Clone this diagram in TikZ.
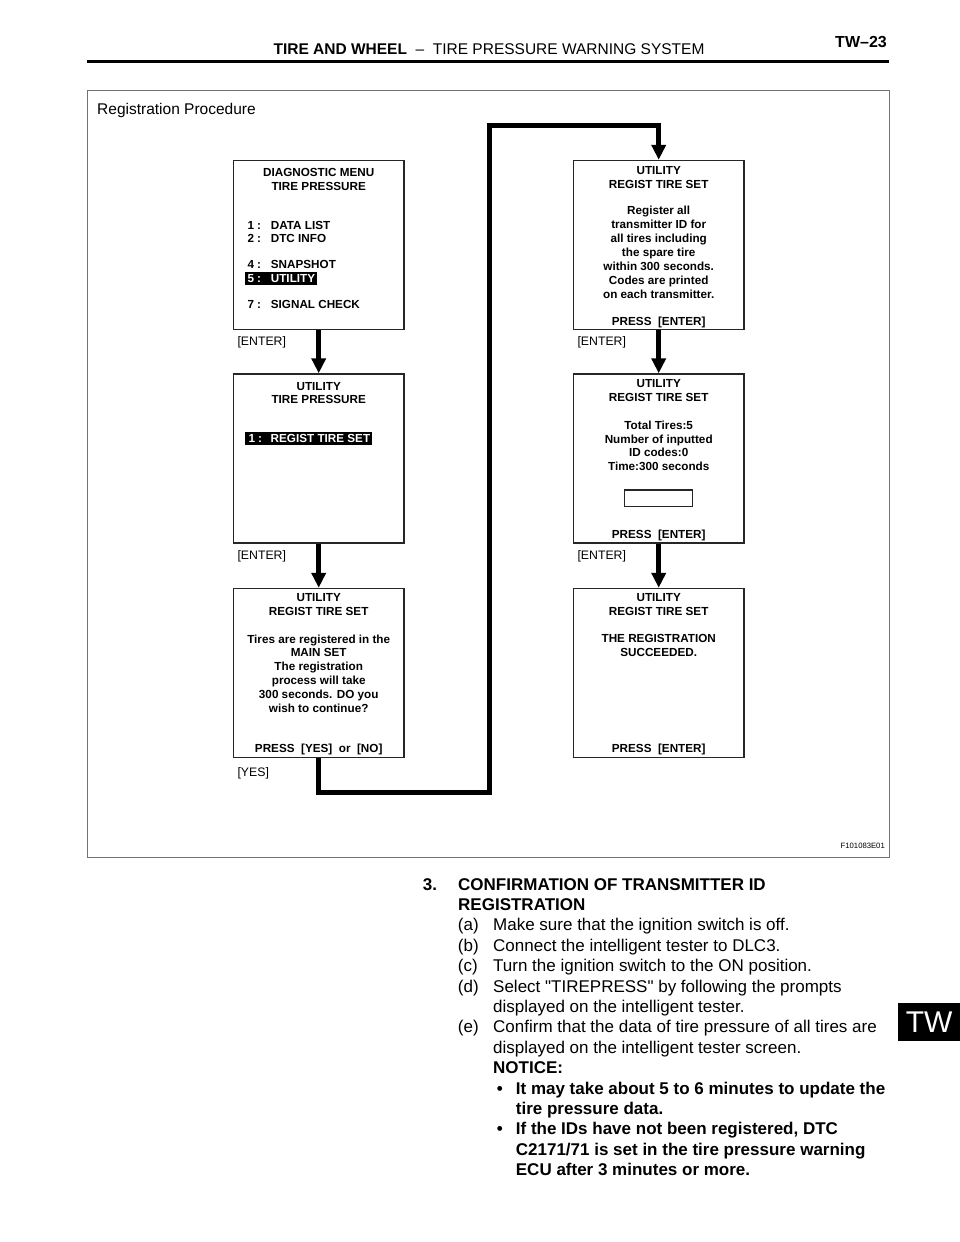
\documentclass[tikz,border=0pt]{standalone}
\usepackage{fontspec}
\setmainfont{Liberation Sans}
\usetikzlibrary{arrows.meta}
\begin{document}
\begin{tikzpicture}[x=1pt,y=-1pt,
  screen/.style={draw=black!85, line width=1.4pt, minimum width=170.5pt, minimum height=169pt, inner sep=0pt},
  st/.style={font=\bfseries\fontsize{11.7}{13}\selectfont, anchor=base, inner sep=0pt},
  stl/.style={st, anchor=base west},
  hlw/.style={stl, text=white},
  hlbox/.style={fill=black, inner sep=0pt, draw=none},
  key/.style={font=\fontsize{12.3}{14}\selectfont, anchor=base west, inner sep=0pt},
  flow/.style={line width=5pt, line join=miter, -{Triangle[width=14pt,length=15pt]}},
  body/.style={font=\fontsize{17}{20}\selectfont, anchor=base west, inner sep=0pt},
  bodyb/.style={body, font=\bfseries\fontsize{17}{20}\selectfont},
]
\useasboundingbox (0,0) rectangle (960,1242);
% header
\node[anchor=base, inner sep=0pt, font=\fontsize{15.5}{18}\selectfont] (title) at (489,54) {\textbf{TIRE AND WHEEL}\ \ –\ \ TIRE PRESSURE WARNING SYSTEM};
\node[anchor=base east, inner sep=0pt, font=\bfseries\fontsize{16}{18}\selectfont] (page) at (887,47) {TW–23};
\draw[line width=2.5pt] (87,61.7) -- (889,61.7);
% frame
\draw[black!55, line width=1pt] (87,90) rectangle (889,857);
\node[anchor=base west, inner sep=0pt, font=\fontsize{15.5}{18}\selectfont] (rp) at (97,114.5) {Registration Procedure};
\node[anchor=base east, inner sep=0pt, font=\fontsize{7.7}{9}\selectfont] (fig) at (885,848.5) {F101083E01};
% screens
\node[screen] (s1) at (318.7,245) {};
\node[screen] (s2) at (318.7,458.5) {};
\node[screen] (s3) at (318.7,673) {};
\node[screen] (s4) at (658.7,245) {};
\node[screen] (s5) at (658.7,458.5) {};
\node[screen] (s6) at (658.7,673) {};
% screen 1
\node[st] (s1a) at (318.7,176.7) {DIAGNOSTIC MENU};
\node[st] (s1b) at (318.7,190.2) {TIRE PRESSURE};
\node[stl] (s1n1) at (247.3,229.2) {1 :};
\node[stl] (s1t1) at (270.7,229.2) {DATA LIST};
\node[stl] (s1n2) at (247.3,242.6) {2 :};
\node[stl] (s1t2) at (270.7,242.6) {DTC INFO};
\node[stl] (s1n4) at (247.3,268.2) {4 :};
\node[stl] (s1t4) at (270.7,268.2) {SNAPSHOT};
\node[hlbox, minimum width=71.7pt, minimum height=13.3pt] (hl1) at (280.8,278.3) {};
\node[hlw] (s1n5) at (247.3,282.4) {5 :};
\node[hlw] (s1t5) at (270.7,282.4) {UTILITY};
\node[stl] (s1n7) at (247.3,308.3) {7 :};
\node[stl] (s1t7) at (270.7,308.3) {SIGNAL CHECK};
% screen 2
\node[st] (s2a) at (318.7,390.2) {UTILITY};
\node[st] (s2b) at (318.7,403.7) {TIRE PRESSURE};
\node[hlbox, minimum width=126.7pt, minimum height=13.3pt] (hl2) at (308.4,438.3) {};
\node[hlw] (s2n1) at (248.3,442.5) {1 :};
\node[hlw] (s2t1) at (270.5,442.5) {REGIST TIRE SET};
% screen 3
\node[st] (s3a) at (318.7,601.2) {UTILITY};
\node[st] (s3b) at (318.7,615.2) {REGIST TIRE SET};
\node[st] (s3c) at (318.7,643.2) {Tires are registered in the};
\node[st] (s3d) at (318.7,656.9) {MAIN SET};
\node[st] (s3e) at (318.7,670.7) {The registration};
\node[st] (s3f) at (318.7,684.7) {process will take};
\node[st] (s3g) at (318.7,698.7) {300 seconds. DO you};
\node[st] (s3h) at (318.7,712.5) {wish to continue?};
\node[st] (s3i) at (318.7,752.7) {PRESS\ \ [YES]\ \ or\ \ [NO]};
% screen 4
\node[st] (s4a) at (658.7,174.2) {UTILITY};
\node[st] (s4b) at (658.7,188.4) {REGIST TIRE SET};
\node[st] (s4c) at (658.7,214.7) {Register all};
\node[st] (s4d) at (658.7,228.7) {transmitter ID for};
\node[st] (s4e) at (658.7,242.7) {all tires including};
\node[st] (s4f) at (658.7,256.7) {the spare tire};
\node[st] (s4g) at (658.7,270.7) {within 300 seconds.};
\node[st] (s4h) at (658.7,284.7) {Codes are printed};
\node[st] (s4i) at (658.7,298.7) {on each transmitter.};
\node[st] (s4j) at (658.7,325.7) {PRESS\ \ [ENTER]};
% screen 5
\node[st] (s5a) at (658.7,387.7) {UTILITY};
\node[st] (s5b) at (658.7,401.7) {REGIST TIRE SET};
\node[st] (s5c) at (658.7,429.2) {Total Tires:5};
\node[st] (s5d) at (658.7,443.2) {Number of inputted};
\node[st] (s5e) at (658.7,456.9) {ID codes:0};
\node[st] (s5f) at (658.7,470.7) {Time:300 seconds};
\node[draw=black!85, line width=1.2pt, minimum width=68pt, minimum height=16.7pt, inner sep=0pt] (inp) at (658.3,498.3) {};
\node[st] (s5g) at (658.7,538.2) {PRESS\ \ [ENTER]};
% screen 6
\node[st] (s6a) at (658.7,601.2) {UTILITY};
\node[st] (s6b) at (658.7,615.2) {REGIST TIRE SET};
\node[st] (s6c) at (658.7,642.7) {THE REGISTRATION};
\node[st] (s6d) at (658.7,656.7) {SUCCEEDED.};
\node[st] (s6e) at (658.7,752.2) {PRESS\ \ [ENTER]};
% key labels
\node[key] (k1) at (237.3,345) {[ENTER]};
\node[key] (k2) at (237.3,559.3) {[ENTER]};
\node[key] (k3) at (237.3,776) {[YES]};
\node[key] (k4) at (577.3,345) {[ENTER]};
\node[key] (k5) at (577.3,559.3) {[ENTER]};
% arrows
\draw[flow] (s1.south) -- (s2.north);
\draw[flow] (s2.south) -- (s3.north);
\draw[flow] (s4.south) -- (s5.north);
\draw[flow] (s5.south) -- (s6.north);
\coordinate (c1) at (489,792.3);
\coordinate (c2) at (489,125.5);
\draw[flow] (s3.south) |- (c1) -- (c2) -| (s4.north);
% body text
\node[bodyb] (n3) at (422.7,890) {3.};
\node[bodyb] (h1) at (458,890) {CONFIRMATION OF TRANSMITTER ID};
\node[bodyb] (h2) at (458,910.4) {REGISTRATION};
\node[body] (la) at (457.7,930.8) {(a)};
\node[body] (ta) at (493,930.8) {Make sure that the ignition switch is off.};
\node[body] (lb) at (457.7,951.2) {(b)};
\node[body] (tb) at (493,951.2) {Connect the intelligent tester to DLC3.};
\node[body] (lc) at (457.7,971.6) {(c)};
\node[body] (tc) at (493,971.6) {Turn the ignition switch to the ON position.};
\node[body] (ld) at (457.7,992) {(d)};
\node[body] (td) at (493,992) {Select \textquotedbl TIREPRESS\textquotedbl{} by following the prompts};
\node[body] (td2) at (493,1012.4) {displayed on the intelligent tester.};
\node[body] (le) at (457.7,1032.8) {(e)};
\node[body] (te) at (493,1032.8) {Confirm that the data of tire pressure of all tires are};
\node[body] (te2) at (493,1053.2) {displayed on the intelligent tester screen.};
\node[bodyb] (nt) at (493,1073.6) {NOTICE:};
\node[bodyb] (b1) at (496.7,1094) {\textbullet};
\node[bodyb] (b1t) at (515.7,1094) {It may take about 5 to 6 minutes to update the};
\node[bodyb] (b1t2) at (515.7,1114.4) {tire pressure data.};
\node[bodyb] (b2) at (496.7,1134.8) {\textbullet};
\node[bodyb] (b2t) at (515.7,1134.8) {If the IDs have not been registered, DTC};
\node[bodyb] (b2t2) at (515.7,1155.2) {C2171/71 is set in the tire pressure warning};
\node[bodyb] (b2t3) at (515.7,1175.6) {ECU after 3 minutes or more.};
% tab
\node[fill=black, text=white, font=\fontsize{30}{32}\selectfont, minimum width=62pt, minimum height=38pt, inner sep=0pt, anchor=north west] (tab) at (898,1003) {TW};
\end{tikzpicture}
\end{document}
